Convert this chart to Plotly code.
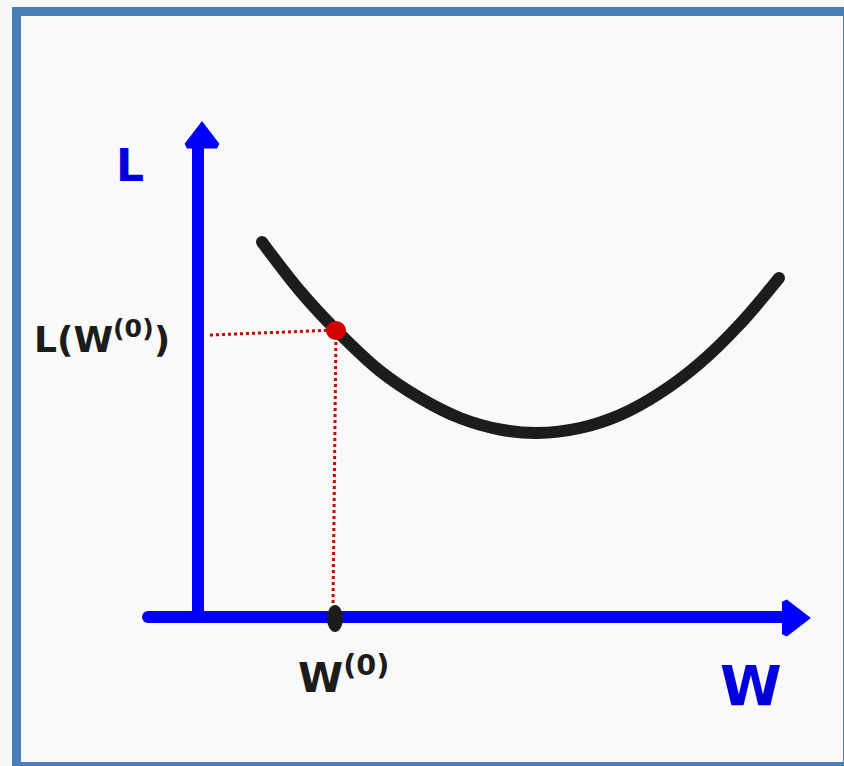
import plotly.graph_objects as go

# Loss curve L(w), sketched in canvas units with the axes crossing at (0, 0)
w_curve = [64, 102, 138, 182, 222, 262, 302, 339, 382, 422, 462, 502, 542, 581]
L_curve = [375, 326, 287, 246, 219, 199, 187.5, 184, 189, 202, 224, 254, 293, 339]

# Starting weight and its loss
w0 = 138
L0 = 287

# Axis extents
w_axis = [-50, 590]
L_axis = [-2, 470]

BLUE = "#0000ff"
BLACK = "#1c1c1c"
RED = "#d40000"
FONT = "DejaVu Sans"

fig = go.Figure()

# Coordinate axes
fig.add_trace(go.Scatter(x=[w_axis[0], w_axis[1]], y=[0, 0], mode="lines+markers",
                         line=dict(color=BLUE, width=12),
                         marker=dict(color=BLUE, size=12, line=dict(width=0)),
                         hoverinfo="skip"))
fig.add_trace(go.Scatter(x=[0, 0], y=[L_axis[0], L_axis[1]], mode="lines",
                         line=dict(color=BLUE, width=12), hoverinfo="skip"))
# Arrow heads
fig.add_trace(go.Scatter(x=[w_axis[1] + 4], y=[-1], mode="markers",
                         marker=dict(symbol="triangle-right", color=BLUE, size=28,
                                     line=dict(color=BLUE, width=6)),
                         hoverinfo="skip"))
fig.add_trace(go.Scatter(x=[4], y=[L_axis[1] + 8], mode="markers",
                         marker=dict(symbol="triangle-up", color=BLUE, size=26,
                                     line=dict(color=BLUE, width=6)),
                         hoverinfo="skip"))

# Dotted guides from the starting point to both axes
fig.add_trace(go.Scatter(x=[12, w0], y=[L0 - 5, L0], mode="lines",
                         line=dict(color=RED, width=3, dash="dot"), hoverinfo="skip"))
fig.add_trace(go.Scatter(x=[w0, w0 - 3], y=[L0, 12], mode="lines",
                         line=dict(color=RED, width=3, dash="dot"), hoverinfo="skip"))

# Loss curve
fig.add_trace(go.Scatter(x=w_curve, y=L_curve, mode="lines", line_shape="spline",
                         line=dict(color=BLACK, width=12), hoverinfo="skip"))
fig.add_trace(go.Scatter(x=[w_curve[0], w_curve[-1]], y=[L_curve[0], L_curve[-1]],
                         mode="markers", marker=dict(color=BLACK, size=12, line=dict(width=0)),
                         hoverinfo="skip"))

# Point on the curve and its mark on the w axis
fig.add_shape(type="circle", xref="x", yref="y", x0=w0 - 10, x1=w0 + 10, y0=L0 - 10, y1=L0 + 9,
              fillcolor=RED, line=dict(width=0))
fig.add_shape(type="circle", xref="x", yref="y", x0=w0 - 9, x1=w0 + 7, y0=-15, y1=12,
              fillcolor=BLACK, line=dict(width=0))

# Frame
fig.add_shape(type="rect", xref="paper", yref="paper", layer="below",
              x0=16.5 / 844, x1=847.5 / 844, y0=1 - 766.5 / 766, y1=1 - 11.5 / 766,
              fillcolor="#f9f9f9", line=dict(color="#4a7eb8", width=9))

# Labels
fig.add_annotation(x=-68, y=452, text="L", showarrow=False,
                   font=dict(family=FONT, size=44, color="#0000dd", weight="bold"))
fig.add_annotation(x=553, y=-68, text="W", showarrow=False,
                   font=dict(family=FONT, size=56, color="#0000dd", weight="bold"))
fig.add_annotation(x=-96, y=280, text="L(W<sup>(0)</sup>)", showarrow=False,
                   font=dict(family=FONT, size=36, color=BLACK, weight="bold"))
fig.add_annotation(x=145, y=-58, text="W<sup>(0)</sup>", showarrow=False,
                   font=dict(family=FONT, size=41, color=BLACK, weight="bold"))

fig.update_layout(
    width=844, height=766,
    margin=dict(l=0, r=0, t=0, b=0),
    paper_bgcolor="#f8f8f8", plot_bgcolor="rgba(0,0,0,0)",
    showlegend=False,
    xaxis=dict(range=[-198, 646], visible=False, fixedrange=True),
    yaxis=dict(range=[-149, 617], visible=False, fixedrange=True),
)

fig.write_html("out.html")
